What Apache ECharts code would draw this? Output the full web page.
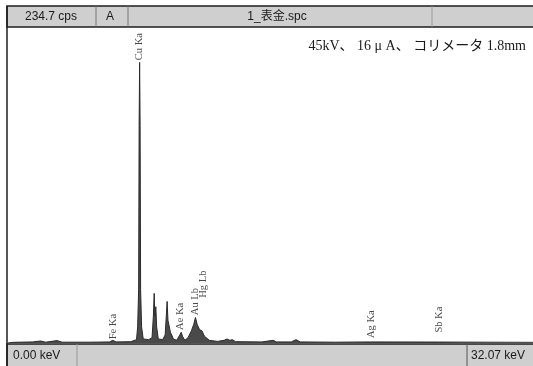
<!DOCTYPE html>
<html>
<head>
<meta charset="utf-8">
<script src="https://cdn.jsdelivr.net/npm/echarts@6/dist/echarts.min.js"></script>
<style>
  html, body { margin: 0; padding: 0; background: #fff; }
  #main { width: 533px; height: 366px; }
</style>
</head>
<body>
<div id="main"></div>
<script>
// spectrum: energy (keV) and counts (cps)
var energy = [0.0, 0.3, 1.5, 2.0, 2.3, 3.0, 3.3, 5.0, 6.2, 6.40, 6.6, 7.5,
  7.85, 7.92, 7.98, 8.01, 8.04, 8.07, 8.10, 8.16, 8.26, 8.6,
  8.80, 8.88, 8.93, 8.97, 9.03, 9.08, 9.18, 9.45,
  9.60, 9.67, 9.72, 9.77, 9.85, 9.92, 10.0, 10.1, 10.3,
  10.50, 10.58, 10.66, 10.8, 11.0, 11.2, 11.35, 11.45, 11.55, 11.7, 11.85, 12.0, 12.3,
  12.8, 13.2, 13.38, 13.55, 13.7, 13.9, 15.5, 16.2, 16.4, 17.3, 17.6, 17.85,
  20.0, 22.16, 26.36, 32.07];
var counts = [0, 0.5, 0.8, 1.5, 0.6, 1.8, 0.6, 0.6, 0.8, 2.0, 0.8, 1.0,
  2.5, 12, 40, 162, 209, 162, 40, 12, 3, 2.5,
  4, 20, 37, 20, 27, 12, 3, 2.5,
  6, 20, 31, 17, 17, 8, 6, 3, 2,
  6, 8, 5, 2, 4, 9, 14, 19, 14, 10, 9, 5, 2,
  1.2, 2, 3, 2, 2.5, 1, 0.8, 2, 0.8, 0.8, 2.5, 0.8,
  0.6, 0.8, 0.7, 0.5];

// element markers: name, energy, marker height (cps)
var lineNames = ['Fe Ka', 'Cu Ka', 'Ae Ka', 'Au Lb', 'Hg Lb', 'Ag Ka', 'Sb Ka'];
var lineEnergy = [6.40, 8.04, 10.54, 11.44, 11.95, 22.16, 26.36];
var lineHeight = [2, 210, 9, 20, 33, 3, 7];

var fullScale = 234.7;
var minKeV = 0.00, maxKeV = 32.07;

var spectrum = energy.map(function (e, i) { return [e, counts[i]]; });
var markers = lineNames.map(function (n, i) {
  return { name: n, value: [lineEnergy[i], lineHeight[i]] };
});

var chart = echarts.init(document.getElementById('main'));
var barFill = '#cfcfcf';
var edge = '#1e1e1e';
var sans = '"Liberation Sans", Arial, "Noto Sans CJK SC", sans-serif';

var option = {
  backgroundColor: '#fff',
  animation: false,
  grid: { left: 8, right: 0, top: 28, bottom: 23 },
  xAxis: { type: 'value', min: minKeV, max: maxKeV, show: false },
  yAxis: { type: 'value', min: 0, max: fullScale, show: false },
  series: [
    {
      type: 'line',
      data: spectrum,
      showSymbol: false,
      lineStyle: { color: '#2a2a2a', width: 1 },
      areaStyle: { color: '#4a4a4a', opacity: 1 },
      z: 2
    },
    {
      type: 'scatter',
      data: markers,
      symbolSize: 0,
      label: {
        show: true,
        position: 'top',
        distance: 1,
        rotate: 90,
        align: 'left',
        verticalAlign: 'middle',
        formatter: '{b}',
        fontFamily: '"Liberation Serif", "DejaVu Serif", serif',
        fontSize: 10.5,
        color: '#1a1a1a'
      },
      z: 3
    }
  ],
  graphic: [
    // top bar
    { type: 'rect', shape: { x: 7, y: 6, width: 530, height: 21 }, style: { fill: barFill, stroke: edge, lineWidth: 1.5 }, z: 10 },
    { type: 'line', shape: { x1: 96, y1: 6, x2: 96, y2: 27 }, style: { stroke: '#777', lineWidth: 1 }, z: 11 },
    { type: 'line', shape: { x1: 128, y1: 6, x2: 128, y2: 27 }, style: { stroke: '#777', lineWidth: 1 }, z: 11 },
    { type: 'line', shape: { x1: 432, y1: 6, x2: 432, y2: 27 }, style: { stroke: '#999', lineWidth: 1 }, z: 11 },
    { type: 'text', x: 51, y: 16.5, style: { text: '234.7 cps', font: '12px ' + sans, fill: '#1a1a1a', textAlign: 'center', textVerticalAlign: 'middle' }, z: 12 },
    { type: 'text', x: 110, y: 16.5, style: { text: 'A', font: '12px ' + sans, fill: '#1a1a1a', textAlign: 'center', textVerticalAlign: 'middle' }, z: 12 },
    { type: 'text', x: 277, y: 16.5, style: { text: '1_表金.spc', font: '12px ' + sans, fill: '#1a1a1a', textAlign: 'center', textVerticalAlign: 'middle' }, z: 12 },
    // bottom bar
    { type: 'rect', shape: { x: 7, y: 344, width: 530, height: 26 }, style: { fill: barFill, stroke: edge, lineWidth: 1.5 }, z: 10 },
    { type: 'line', shape: { x1: 77, y1: 344, x2: 77, y2: 366 }, style: { stroke: '#999', lineWidth: 1 }, z: 11 },
    { type: 'line', shape: { x1: 467, y1: 344, x2: 467, y2: 366 }, style: { stroke: '#555', lineWidth: 1 }, z: 11 },
    { type: 'text', x: 13, y: 355.5, style: { text: '0.00 keV', font: '12px ' + sans, fill: '#1a1a1a', textAlign: 'left', textVerticalAlign: 'middle' }, z: 12 },
    { type: 'text', x: 471, y: 355.5, style: { text: '32.07 keV', font: '12px ' + sans, fill: '#1a1a1a', textAlign: 'left', textVerticalAlign: 'middle' }, z: 12 },
    // left frame
    { type: 'line', shape: { x1: 7, y1: 6, x2: 7, y2: 366 }, style: { stroke: edge, lineWidth: 1.5 }, z: 11 },
    // measurement conditions
    { type: 'text', x: 526, y: 46, style: { text: '45kV、 16 μ A、 コリメータ 1.8mm', font: '14px "Liberation Serif", "DejaVu Serif", "Noto Sans CJK JP", serif', fill: '#1a1a1a', textAlign: 'right', textVerticalAlign: 'middle' }, z: 12 }
  ]
};

chart.setOption(option);
</script>
</body>
</html>
